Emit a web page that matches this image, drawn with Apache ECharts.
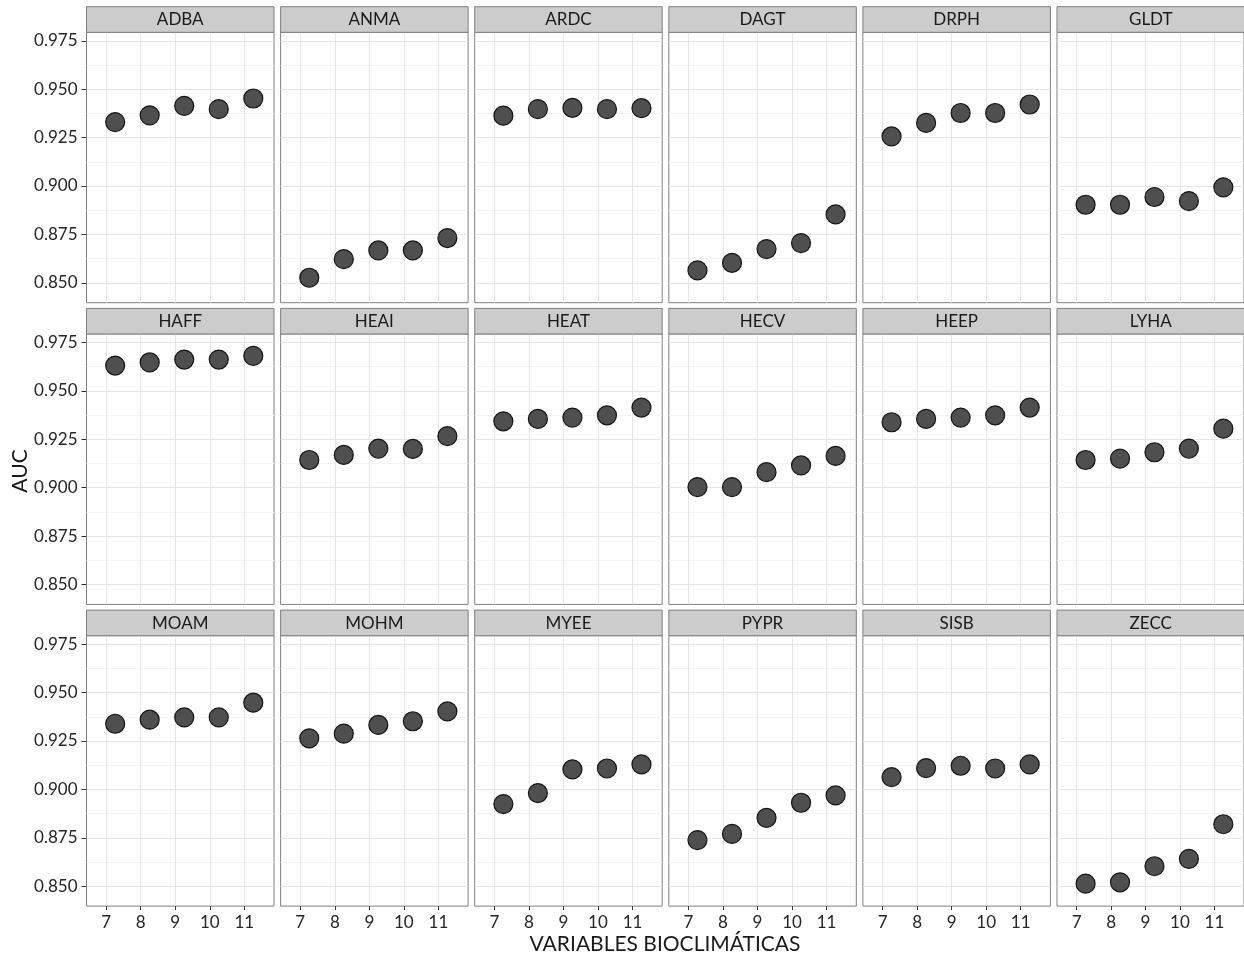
<!DOCTYPE html>
<html>
<head>
<meta charset="utf-8">
<script src="https://cdn.jsdelivr.net/npm/echarts@6/dist/echarts.min.js"></script>
<style>
  html, body { margin: 0; padding: 0; background: #fff; }
  #chart { width: 1244px; height: 957px; }
</style>
</head>
<body>
<div id="chart"></div>
<script>
// facet order, left to right, top to bottom
const facets = ['ADBA', 'ANMA', 'ARDC', 'DAGT', 'DRPH', 'GLDT',
  'HAFF', 'HEAI', 'HEAT', 'HECV', 'HEEP', 'LYHA',
  'MOAM', 'MOHM', 'MYEE', 'PYPR', 'SISB', 'ZECC'];

// number of bioclimatic variables (points sit a little right of the tick)
const xVals = [7.26, 8.26, 9.26, 10.26, 11.26];
const xTicks = [7, 8, 9, 10, 11];
const yTicks = [0.85, 0.875, 0.9, 0.925, 0.95, 0.975];
const yMinorTicks = [0.8625, 0.8875, 0.9125, 0.9375, 0.9625];

// AUC per species
const aucADBA = [0.933, 0.9365, 0.9414, 0.9397, 0.9452];
const aucANMA = [0.8526, 0.8622, 0.8667, 0.8667, 0.8731];
const aucARDC = [0.9363, 0.9397, 0.9404, 0.9397, 0.9402];
const aucDAGT = [0.8564, 0.8603, 0.8674, 0.8705, 0.8853];
const aucDRPH = [0.9256, 0.9326, 0.9377, 0.9377, 0.9421];
const aucGLDT = [0.8903, 0.8903, 0.8943, 0.8922, 0.8993];
const aucHAFF = [0.9631, 0.9647, 0.9662, 0.9662, 0.9681];
const aucHEAI = [0.9143, 0.9169, 0.9202, 0.92, 0.9266];
const aucHEAT = [0.9343, 0.9355, 0.9362, 0.9374, 0.9414];
const aucHECV = [0.9003, 0.9003, 0.908, 0.9115, 0.9164];
const aucHEEP = [0.9338, 0.9355, 0.9362, 0.9374, 0.9414];
const aucLYHA = [0.9143, 0.915, 0.9183, 0.9202, 0.9305];
const aucMOAM = [0.9339, 0.936, 0.9372, 0.9372, 0.9448];
const aucMOHM = [0.9264, 0.9288, 0.9333, 0.9352, 0.9403];
const aucMYEE = [0.8924, 0.8981, 0.9103, 0.9108, 0.9129];
const aucPYPR = [0.8738, 0.877, 0.8853, 0.8931, 0.8969];
const aucSISB = [0.9063, 0.911, 0.9122, 0.9108, 0.9129];
const aucZECC = [0.8513, 0.852, 0.8603, 0.8641, 0.882];

const aucValues = [aucADBA, aucANMA, aucARDC, aucDAGT, aucDRPH, aucGLDT,
  aucHAFF, aucHEAI, aucHEAT, aucHECV, aucHEEP, aucLYHA,
  aucMOAM, aucMOHM, aucMYEE, aucPYPR, aucSISB, aucZECC];

const FONT = 'Lato';
const BORDER = '#808080';
const COLS = 6;
const PANEL_LEFT = 86.5;
const PANEL_W = 187.5;
const COL_STEP = 194.1;
const PANEL_TOP = 32.3;
const PANEL_H = 270.4;
const ROW_STEP = 301.7;
const STRIP_H = 25.6;

const grid = [];
const xAxis = [];
const yAxis = [];
const series = [];
const graphic = [];

facets.forEach((name, i) => {
  const col = i % COLS;
  const row = Math.floor(i / COLS);
  const left = PANEL_LEFT + COL_STEP * col;
  const top = PANEL_TOP + ROW_STEP * row;
  const isBottom = row === 2;
  const isLeft = col === 0;

  grid.push({
    left: left,
    top: top,
    width: PANEL_W,
    height: PANEL_H,
    show: true,
    borderColor: BORDER,
    borderWidth: 1,
    backgroundColor: '#fff',
  });

  xAxis.push({
    type: 'value',
    gridIndex: i,
    min: 6.43,
    max: 11.86,
    axisLine: { show: false },
    axisTick: {
      show: isBottom,
      customValues: xTicks,
      length: 4,
      lineStyle: { color: '#333' },
    },
    axisLabel: {
      show: isBottom,
      customValues: xTicks,
      margin: 8,
      color: '#262626',
      fontFamily: FONT,
      fontSize: 17,
    },
    splitLine: { show: true, lineStyle: { color: '#e6e6e6', width: 1 } },
  });

  yAxis.push({
    type: 'value',
    gridIndex: i,
    position: 'left',
    min: 0.8397,
    max: 0.9794,
    axisLine: { show: false },
    axisTick: {
      show: isLeft,
      customValues: yTicks,
      length: 5,
      lineStyle: { color: '#333' },
    },
    axisLabel: {
      show: isLeft,
      customValues: yTicks,
      margin: 9,
      color: '#262626',
      fontFamily: FONT,
      fontSize: 17,
      formatter: (v) => v.toFixed(3),
    },
    splitLine: { show: true, lineStyle: { color: '#e6e6e6', width: 1 } },
  });

  // minor grid lines
  yAxis.push({
    type: 'value',
    gridIndex: i,
    position: 'left',
    min: 0.8397,
    max: 0.9794,
    axisLine: { show: false },
    axisTick: { show: false, customValues: yMinorTicks },
    axisLabel: { show: false },
    splitLine: { show: true, lineStyle: { color: '#f3f3f3', width: 1 } },
  });

  series.push({
    name: name,
    type: 'scatter',
    xAxisIndex: i,
    yAxisIndex: i * 2,
    symbol: 'circle',
    symbolSize: 19,
    itemStyle: {
      color: '#4f4f4f',
      borderColor: '#141414',
      borderWidth: 1.2,
      opacity: 1,
    },
    data: xVals.map((x, k) => [x, aucValues[i][k]]),
    z: 5,
  });

  graphic.push({
    type: 'rect',
    shape: { x: left, y: top - STRIP_H, width: PANEL_W, height: STRIP_H },
    style: { fill: '#cccccc', stroke: BORDER, lineWidth: 1 },
    z: 10,
  });
  graphic.push({
    type: 'text',
    x: left + PANEL_W / 2,
    y: top - STRIP_H / 2 + 0.5,
    style: {
      text: name,
      fill: '#1a1a1a',
      font: '17px ' + FONT,
      align: 'center',
      verticalAlign: 'middle',
    },
    z: 11,
  });
});

graphic.push({
  type: 'text',
  x: 665,
  y: 944,
  style: {
    text: 'VARIABLES BIOCLIMÁTICAS',
    fill: '#1a1a1a',
    font: '21px ' + FONT,
    align: 'center',
    verticalAlign: 'middle',
  },
});
graphic.push({
  type: 'text',
  x: 20,
  y: 471,
  rotation: Math.PI / 2,
  style: {
    text: 'AUC',
    fill: '#1a1a1a',
    font: '21px ' + FONT,
    align: 'center',
    verticalAlign: 'middle',
  },
});

const chart = echarts.init(document.getElementById('chart'), null, { renderer: 'canvas' });
chart.setOption({
  animation: false,
  backgroundColor: '#fff',
  grid: grid,
  xAxis: xAxis,
  yAxis: yAxis,
  series: series,
  graphic: graphic,
});
</script>
</body>
</html>
